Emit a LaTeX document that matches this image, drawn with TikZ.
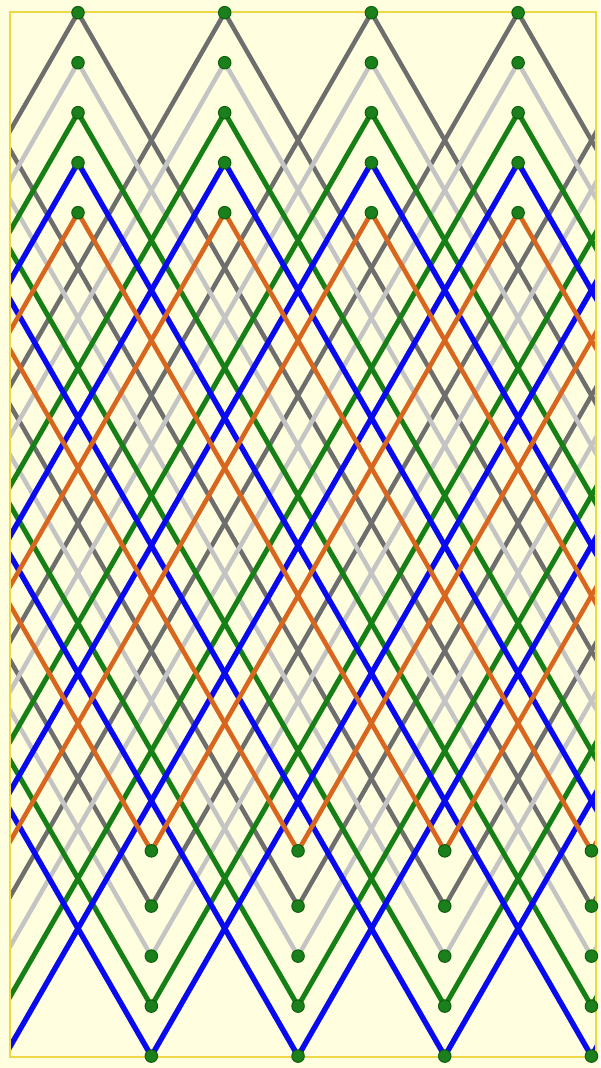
\documentclass[tikz,border=0pt]{standalone}
\definecolor{bgyellow}{HTML}{FFFFE0}
\definecolor{frameyellow}{HTML}{EED845}
\definecolor{cgray}{HTML}{6E6E6E}
\definecolor{clgray}{HTML}{C4C4C4}
\definecolor{cgreen}{HTML}{168016}
\definecolor{cblue}{HTML}{0A0AF0}
\definecolor{corange}{HTML}{D8661E}
\definecolor{pingreen}{HTML}{1B801B}
\definecolor{pindark}{HTML}{0C5E0C}
\begin{document}
\begin{tikzpicture}[x=1pt,y=-1pt,
  lace/.style={line cap=round,line join=round},
  pegdot/.style={circle,fill=pingreen,draw=pindark,line width=1pt,inner sep=0pt,minimum size=12.5pt}]
\useasboundingbox (0,0) rectangle (600,1068);
\fill[bgyellow] (0,0) rectangle (600,1068);
% pin coordinates (top and bottom rows of each colour)
\foreach \yt/\h [count=\i] in {12.7/3.5, 62.7/3.5, 112.7/3.5, 162.7/3.5, 212.7/2.5}{
  \foreach \k in {-10,...,12}{
    \coordinate (T\i-\k) at ({78+\k*146.7},\yt);
    \coordinate (B\i-\k) at ({78+(\k+0.5)*146.7},{\yt+\h*146.7*1.74});
  }
}
% lacing lines
\begin{scope}
\clip (10,0) rectangle (596,1068);
\foreach \c/\ri/\li/\w [count=\i] in {cgray/3/-4/4.5, clgray/3/-4/4.5, cgreen/3/-4/5, cblue/3/-4/5.4, corange/2/-3/4.6}{
  \foreach \k in {-5,...,8}{
    \pgfmathtruncatemacro\a{\k+\ri}
    \pgfmathtruncatemacro\b{\k+\li}
    \draw[lace,draw=\c,line width=\w pt] (B\i-\b) -- (T\i-\k) -- (B\i-\a);
  }
}
\end{scope}
% frame
\draw[frameyellow,line width=2.8pt] (10,12) rectangle (596,1057);
% pins
\foreach \i in {1,...,5}{
  \foreach \k in {0,...,3}{
    \node[pegdot] (PT\i-\k) at (T\i-\k) {};
    \node[pegdot] (PB\i-\k) at (B\i-\k) {};
  }
}
\end{tikzpicture}
\end{document}
